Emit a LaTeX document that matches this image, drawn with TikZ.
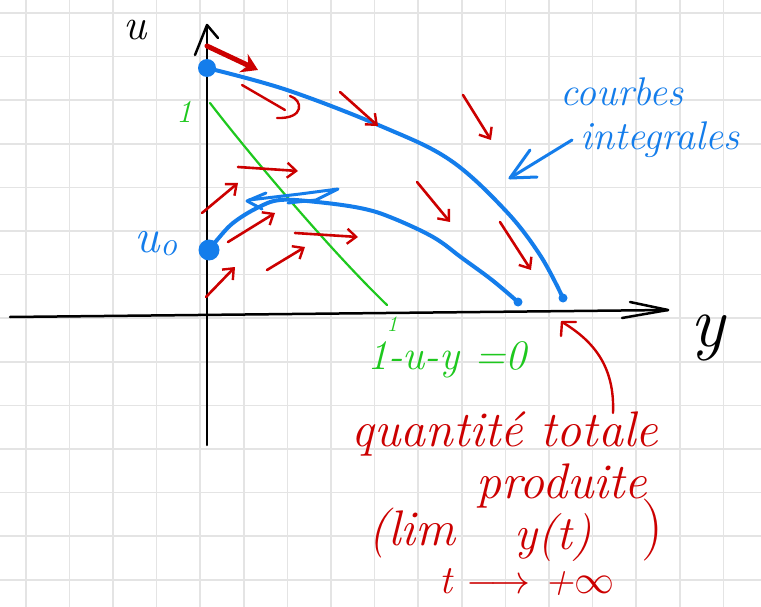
\RequirePackage{fix-cm}
\documentclass[tikz,border=0pt]{standalone}
\usetikzlibrary{arrows.meta}
\definecolor{gridgray}{RGB}{228,228,228}
\definecolor{fred}{RGB}{204,0,0}
\definecolor{fblue}{RGB}{20,125,235}
\definecolor{fgreen}{RGB}{30,200,30}
\newcommand{\hsz}[1]{\fontsize{#1}{#1}\selectfont}
\begin{document}
\begin{tikzpicture}[x=1pt,y=-1pt,
  gridline/.style={draw=gridgray,line width=1.5pt},
  axis/.style={draw=black,line width=2.5pt,line cap=round,line join=round},
  field/.style={draw=fred,line width=2.6pt,line cap=round,line join=round,
     -{Straight Barb[length=9pt,width=15pt,line width=2.4pt]}},
  redpen/.style={draw=fred,line width=2.4pt,line cap=round,line join=round},
  traj/.style={draw=fblue,line width=4pt,line cap=round,line join=round},
  bluepen/.style={draw=fblue,line width=3pt,line cap=round,line join=round},
  greenpen/.style={draw=fgreen,line width=2.2pt,line cap=round},
  dot/.style={circle,fill=fblue,inner sep=0pt},
  redtxt/.style={text=fred,inner sep=0pt},
  bluetxt/.style={text=fblue,inner sep=0pt},
  greentxt/.style={text=fgreen,inner sep=0pt}]
\useasboundingbox (0,0) rectangle (761,607);
\fill[white] (0,0) rectangle (761,607);
% grid
\foreach \i in {0,...,16} \draw[gridline] ({25.8+43.6*\i},0) -- ++(0,607);
\foreach \j in {0,...,13} \draw[gridline] (0,{13+43.6*\j}) -- ++(761,0);

% axes
\coordinate (ytop) at (207,25);
\coordinate (ybot) at (207,445);
\coordinate (xl) at (10,317);
\coordinate (xr) at (668,310);
\draw[axis] (ybot) -- (ytop);
\draw[axis] (195,55) -- (ytop) -- (218,38);
\draw[axis] (xl) -- (xr);
\draw[axis] (630,302) -- (xr) -- (622,318);
\node[inner sep=0pt,font=\itshape\hsz{44}] (ulab) at (135,30) {u};
\node[inner sep=0pt,font=\itshape\hsz{72}] (ylab) at (708,338) {y};

% nullcline
\coordinate (g1) at (210,103);
\coordinate (g2) at (387,305);
\draw[greenpen] (g1) .. controls (250,155) and (330,250) .. (g2);
\node[greentxt,font=\itshape\hsz{32}] (gone) at (184,112) {1};
\node[greentxt,font=\itshape\hsz{22}] (gonex) at (392,324) {1};
\node[greentxt,font=\itshape\hsz{42}] (geq) at (447,360) {1-u-y =0};

% trajectories
\node[dot,minimum size=18pt] (A) at (207,68) {};
\node[dot,minimum size=21pt] (B) at (209,250) {};
\node[bluetxt,font=\itshape\hsz{48}] (u0) at (156,244) {u\raisebox{-0.15ex}{\hsz{34}o}};
\node[dot,minimum size=9pt] (Aend) at (563,298) {};
\node[dot,minimum size=9pt] (Bend) at (518,302) {};
\draw[traj] plot[smooth,tension=0.6] coordinates {(207,68) (287,90) (383,127) (450,160) (505,210) (540,255) (563,298)};
\draw[traj] plot[smooth,tension=0.6] coordinates {(209,250) (217,240) (233,223) (257,208) (280,200) (317,202) (360,208) (390,217) (433,237) (462,258) (492,280) (518,302)};
\draw[bluepen] (266,193) -- (247,201) -- (262,209);
\draw[bluepen] (249,200) -- (300,194) -- (338,189) -- (316,200) -- (288,203);

% direction field
\draw[field,line width=5pt,-{Stealth[length=16pt,width=20pt]}] (207,46) -- (258,70);
\draw[redpen] (242,85) -- (285,110);
\draw[redpen] (277,118) .. controls (305,119) and (303,100) .. (290,96);
\draw[field] (340,92) -- (378,126);
\draw[field] (463,95) -- (491,140);
\draw[field] (417,182) -- (450,222);
\draw[field] (500,222) -- (531,270);
\draw[field] (238,167) -- (298,171);
\draw[field] (295,233) -- (358,237);
\draw[field] (202,213) -- (238,183);
\draw[field] (228,242) -- (275,213);
\draw[field] (267,270) -- (305,247);
\draw[field] (206,297) -- (235,267);

% annotation: integral curves
\node[bluetxt,font=\itshape\hsz{40}] (cb) at (622,92) {courbes};
\node[bluetxt,font=\itshape\hsz{40}] (ci) at (660,140) {integrales};
\coordinate (cbtip) at (510,178);
\draw[bluepen] (572,140) -- (cbtip);
\draw[bluepen] (530,150) -- (cbtip) -- (537,177);

% annotation: total quantity
\node[redtxt,font=\itshape\hsz{50}] (q1) at (505,434) {quantité totale};
\node[redtxt,font=\itshape\hsz{50}] (q2) at (562,486) {produite};
\node[redtxt,font=\itshape\hsz{50}] (q3) at (412,533) {(lim};
\node[redtxt,font=\itshape\hsz{48}] (q4) at (553,538) {y(t)};
\node[redtxt,font=\hsz{62}] (q5) at (652,530) {)};
\node[redtxt,font=\itshape\hsz{40}] (q6) at (527,582) {t $\longrightarrow$ +$\infty$};
\coordinate (qtip) at (562,322);
\draw[redpen] (613,413) .. controls (615,365) and (592,340) .. (qtip);
\draw[redpen] (561,336) -- (qtip) -- (576,322);
\end{tikzpicture}
\end{document}
